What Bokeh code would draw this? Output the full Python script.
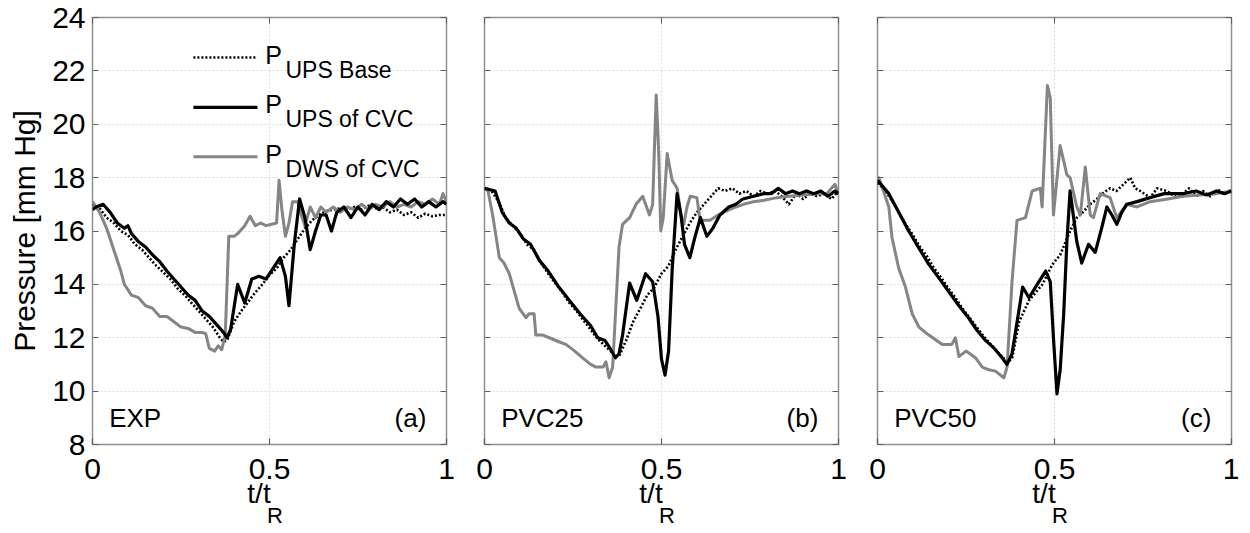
from bokeh.plotting import figure
from bokeh.layouts import row
from bokeh.models import Range1d, FixedTicker, LinearAxis, Label
from bokeh.embed import file_html
from bokeh.resources import INLINE

FONT = "Liberation Sans"

# ---------------- data ----------------
panel_names = ["EXP", "PVC25", "PVC50"]
panel_tags = ["(a)", "(b)", "(c)"]
series_names = ["UPS Base", "UPS of CVC", "DWS of CVC"]
y_ticks = [8, 10, 12, 14, 16, 18, 20, 22, 24]
x_ticks = [0, 0.5, 1]
x_tick_labels = ["0", "0.5", "1"]
x_title, x_title_sub = "t/t", "R"
y_title = "Pressure [mm Hg]"

# Panel (a) EXP
exp_base_t = [0, 0.02, 0.04, 0.06, 0.08, 0.10, 0.12, 0.14, 0.16, 0.18, 0.20, 0.22, 0.24, 0.26, 0.28,
              0.30, 0.32, 0.34, 0.36, 0.37, 0.38, 0.40, 0.42, 0.44, 0.46, 0.48, 0.50, 0.52, 0.54, 0.56,
              0.58, 0.60, 0.62, 0.64, 0.66, 0.68, 0.70, 0.72, 0.74, 0.76, 0.78, 0.80, 0.82, 0.84, 0.86,
              0.88, 0.90, 0.92, 0.94, 0.96, 0.98, 1.0]
exp_base_p = [17.0, 16.85, 16.5, 16.3, 16.0, 15.85, 15.5, 15.3, 15.0, 14.7, 14.45, 14.2, 13.85, 13.6, 13.3,
              13.0, 12.7, 12.4, 12.0, 11.85, 11.9, 12.6, 13.0, 13.35, 13.7, 14.0, 14.35, 14.6, 15.0, 15.3,
              15.7, 16.1, 16.4, 16.6, 16.75, 16.8, 16.85, 16.8, 16.9, 16.8, 16.95, 16.85, 16.9, 16.7, 16.8,
              16.6, 16.7, 16.5, 16.65, 16.55, 16.6, 16.6]
exp_ups_t = [0, 0.01, 0.03, 0.05, 0.07, 0.09, 0.10, 0.11, 0.13, 0.15, 0.17, 0.19, 0.21, 0.23, 0.25, 0.27,
             0.29, 0.31, 0.33, 0.35, 0.37, 0.38, 0.39, 0.41, 0.43, 0.45, 0.47, 0.49, 0.51, 0.53, 0.545,
             0.555, 0.57, 0.585, 0.60, 0.615, 0.63, 0.645, 0.66, 0.675, 0.69, 0.71, 0.73, 0.75, 0.77, 0.79,
             0.81, 0.83, 0.85, 0.87, 0.89, 0.91, 0.93, 0.95, 0.97, 0.99, 1.0]
exp_ups_p = [16.8, 16.9, 17.0, 16.7, 16.3, 16.1, 16.2, 15.9, 15.6, 15.4, 15.1, 14.85, 14.5, 14.2, 13.9, 13.6,
             13.4, 13.0, 12.8, 12.5, 12.2, 12.0, 12.3, 14.0, 13.3, 14.2, 14.3, 14.2, 14.6, 15.0, 14.3,
             13.2, 15.5, 17.2, 16.5, 15.3, 16.0, 16.6, 16.6, 16.0, 16.7, 16.9, 16.5, 16.9, 16.6, 17.0,
             16.8, 17.1, 16.9, 17.2, 17.0, 17.2, 16.9, 17.1, 16.9, 17.1, 17.0]
exp_dws_t = [0, 0.02, 0.04, 0.06, 0.08, 0.09, 0.11, 0.13, 0.15, 0.17, 0.19, 0.21, 0.23, 0.25, 0.27, 0.29,
             0.31, 0.32, 0.33, 0.345, 0.355, 0.365, 0.375, 0.385, 0.40, 0.41, 0.43, 0.445, 0.46, 0.475,
             0.49, 0.52, 0.527, 0.535, 0.545, 0.555, 0.565, 0.58, 0.59, 0.60, 0.615, 0.63, 0.645, 0.66,
             0.68, 0.70, 0.72, 0.74, 0.76, 0.78, 0.80, 0.82, 0.84, 0.86, 0.88, 0.90, 0.92, 0.94, 0.96,
             0.98, 0.99, 1.0]
exp_dws_p = [17.1, 16.7, 16.1, 15.3, 14.5, 14.0, 13.6, 13.5, 13.2, 13.1, 12.8, 12.8, 12.6, 12.4, 12.35, 12.2,
             12.2, 12.15, 11.6, 11.5, 11.7, 11.55, 12.1, 15.8, 15.8, 15.9, 16.2, 16.55, 16.2, 16.3,
             16.2, 16.3, 17.9, 16.8, 15.8, 16.3, 17.1, 17.1, 16.6, 16.2, 16.9, 16.5, 16.9, 16.7,
             16.9, 16.7, 16.9, 16.8, 17.0, 16.8, 17.0, 16.9, 17.1, 16.9, 17.0, 16.9, 17.1, 17.0, 17.2,
             17.0, 17.4, 17.1]

# Panel (b) PVC25
pvc25_base_t = [0, 0.02, 0.04, 0.06, 0.08, 0.10, 0.12, 0.14, 0.16, 0.18, 0.20, 0.22, 0.24, 0.26, 0.28,
                0.30, 0.32, 0.34, 0.36, 0.37, 0.38, 0.39, 0.40, 0.42, 0.44, 0.46, 0.48, 0.50, 0.52, 0.54,
                0.56, 0.58, 0.60, 0.62, 0.64, 0.66, 0.68, 0.70, 0.72, 0.74, 0.76, 0.78, 0.80, 0.82, 0.84,
                0.86, 0.88, 0.90, 0.92, 0.94, 0.96, 0.98, 1.0]
pvc25_base_p = [17.6, 17.5, 17.1, 16.5, 16.2, 15.9, 15.5, 15.3, 14.8, 14.4, 14.05, 13.7, 13.3, 13.0, 12.65,
                12.3, 11.95, 11.7, 11.45, 11.3, 11.3, 11.6, 11.9, 12.6, 13.1, 13.6, 13.9, 14.4, 14.7, 15.3,
                15.8, 16.3, 16.7, 17.0, 17.3, 17.6, 17.5, 17.6, 17.4, 17.5, 17.3, 17.5, 17.4, 17.5, 17.3,
                17.0, 17.4, 17.2, 17.4, 17.3, 17.4, 17.2, 17.5]
pvc25_ups_t = [0, 0.03, 0.05, 0.07, 0.09, 0.11, 0.13, 0.155, 0.18, 0.21, 0.24, 0.27, 0.30, 0.32, 0.34,
               0.355, 0.37, 0.38, 0.39, 0.41, 0.43, 0.455, 0.475, 0.49, 0.50, 0.51, 0.52, 0.53, 0.544,
               0.555, 0.565, 0.58, 0.595, 0.61, 0.628, 0.645, 0.665, 0.69, 0.71, 0.73, 0.76, 0.79, 0.81,
               0.83, 0.85, 0.87, 0.89, 0.91, 0.93, 0.95, 0.97, 0.99, 1.0]
pvc25_ups_p = [17.6, 17.5, 16.7, 16.3, 16.1, 15.7, 15.5, 14.9, 14.5, 13.9, 13.4, 12.9, 12.45, 12.0, 11.9,
               11.6, 11.25, 11.4, 12.1, 14.05, 13.4, 14.4, 14.1, 12.8, 11.2, 10.6, 11.5, 14.5, 17.4,
               16.6, 15.5, 15.0, 15.8, 16.5, 15.8, 16.1, 16.6, 16.9, 17.0, 17.2, 17.3, 17.4, 17.4,
               17.6, 17.4, 17.5, 17.4, 17.5, 17.4, 17.5, 17.3, 17.5, 17.4]
pvc25_dws_t = [0, 0.01, 0.023, 0.042, 0.055, 0.07, 0.085, 0.098, 0.117, 0.126, 0.14, 0.145, 0.165, 0.183,
               0.21, 0.23, 0.255, 0.277, 0.30, 0.315, 0.335, 0.343, 0.352, 0.362, 0.37, 0.38, 0.39, 0.41,
               0.428, 0.447, 0.466, 0.475, 0.485, 0.492, 0.498, 0.505, 0.516, 0.53, 0.544, 0.555, 0.563,
               0.572, 0.581, 0.60, 0.609, 0.637, 0.66, 0.684, 0.71, 0.732, 0.76, 0.79, 0.826, 0.86, 0.90,
               0.94, 0.967, 0.99, 1.0]
pvc25_dws_p = [17.6, 17.5, 16.6, 15.0, 14.8, 14.4, 13.7, 13.1, 12.75, 12.9, 12.9, 12.1, 12.1, 12.0,
               11.85, 11.75, 11.5, 11.25, 11.0, 10.9, 10.9, 11.1, 10.5, 10.9, 12.9, 15.4, 16.25, 16.5,
               17.0, 17.3, 16.6, 17.0, 21.1, 19.0, 16.0, 16.5, 18.9, 17.9, 17.6, 16.6, 16.25,
               16.9, 17.3, 17.25, 16.4, 16.4, 16.6, 16.75, 16.9, 17.0, 17.1, 17.15, 17.25, 17.3, 17.35,
               17.4, 17.4, 17.75, 17.4]

# Panel (c) PVC50
pvc50_base_t = [0, 0.02, 0.04, 0.06, 0.08, 0.10, 0.12, 0.14, 0.16, 0.18, 0.20, 0.22, 0.24, 0.26, 0.28,
                0.30, 0.32, 0.34, 0.352, 0.366, 0.38, 0.40, 0.428, 0.466, 0.494, 0.516, 0.544, 0.563,
                0.58, 0.601, 0.62, 0.64, 0.657, 0.675, 0.695, 0.714, 0.728, 0.742, 0.77, 0.79, 0.817,
                0.84, 0.864, 0.88, 0.90, 0.92, 0.94, 0.96, 0.98, 1.0]
pvc50_base_p = [17.8, 17.55, 17.15, 16.7, 16.25, 15.85, 15.4, 15.05, 14.6, 14.25, 13.85, 13.5, 13.1, 12.75,
                12.4, 12.05, 11.75, 11.45, 11.3, 11.1, 11.2, 12.6, 13.4, 14.0, 14.75, 15.1, 16.0, 16.5,
                16.7, 17.0, 17.2, 17.45, 17.6, 17.5, 17.75, 18.0, 17.6, 17.5, 17.25, 17.6, 17.5,
                17.3, 17.4, 17.6, 17.3, 17.5, 17.3, 17.55, 17.4, 17.55]
pvc50_ups_t = [0, 0.032, 0.06, 0.088, 0.115, 0.145, 0.17, 0.20, 0.23, 0.257, 0.28, 0.305, 0.33, 0.352,
               0.366, 0.38, 0.41, 0.428, 0.456, 0.475, 0.488, 0.497, 0.507, 0.516, 0.526, 0.535, 0.544,
               0.563, 0.577, 0.596, 0.615, 0.633, 0.648, 0.662, 0.676, 0.69, 0.704, 0.733, 0.77, 0.81,
               0.864, 0.90, 0.93, 0.958, 0.98, 1.0]
pvc50_ups_p = [17.9, 17.4, 16.7, 16.0, 15.4, 14.75, 14.3, 13.75, 13.2, 12.75, 12.3, 11.9, 11.6, 11.25,
               11.0, 11.4, 13.9, 13.5, 14.1, 14.5, 14.1, 12.0, 9.9, 10.8, 12.9, 15.6, 17.5,
               15.6, 14.8, 15.5, 15.2, 16.1, 16.9, 16.6, 16.25, 16.7, 17.0, 17.1, 17.25, 17.4,
               17.4, 17.5, 17.35, 17.5, 17.4, 17.5]
pvc50_dws_t = [0, 0.004, 0.032, 0.041, 0.06, 0.079, 0.098, 0.117, 0.145, 0.183, 0.21, 0.22, 0.23, 0.25,
               0.277, 0.296, 0.315, 0.333, 0.357, 0.366, 0.38, 0.394, 0.418, 0.437, 0.46, 0.465, 0.48,
               0.488, 0.497, 0.516, 0.535, 0.544, 0.563, 0.573, 0.587, 0.601, 0.61, 0.629, 0.657, 0.676,
               0.704, 0.733, 0.77, 0.82, 0.864, 0.91, 0.958, 1.0]
pvc50_dws_p = [18.0, 18.0, 16.9, 15.75, 14.6, 13.9, 12.9, 12.4, 12.1, 11.75, 11.75, 12.0, 11.3, 11.5,
               11.25, 10.9, 10.8, 10.75, 10.5, 10.9, 14.1, 16.4, 16.5, 17.5, 17.6, 16.9, 21.45,
               21.0, 16.6, 19.2, 18.1, 18.0, 16.9, 16.6, 18.4, 16.6, 16.5, 17.4, 17.25, 16.5,
               17.0, 16.9, 17.1, 17.2, 17.3, 17.35, 17.4, 17.5]

panel_data = [
    (exp_base_t, exp_base_p, exp_ups_t, exp_ups_p, exp_dws_t, exp_dws_p),
    (pvc25_base_t, pvc25_base_p, pvc25_ups_t, pvc25_ups_p, pvc25_dws_t, pvc25_dws_p),
    (pvc50_base_t, pvc50_base_p, pvc50_ups_t, pvc50_ups_p, pvc50_dws_t, pvc50_dws_p),
]

# ---------------- styles / layout ----------------
GRAY = "#858585"
BOX = "#8f8f8f"
GRID = "#dcdcdc"
TICK = "#606060"
FRAME_W, FRAME_H = 354, 427
BORDERS = [(92, 19), (19, 20), (19, 8)]
BORDER_TOP, BORDER_BOTTOM = 17, 88
styles = [
    dict(line_color="black", line_width=2.6, line_dash="2 2"),
    dict(line_color="black", line_width=3.2),
    dict(line_color=GRAY, line_width=3.0),
]
LEG_X = (0.285, 0.466)
LEG_Y = [22.5, 20.63, 18.78]
LEG_P_X = 0.488
LEG_SUB_X = 0.545
NAME_X, TAG_X, NAME_Y = 0.047, 0.943, 9.0


def blank_axis(ticks):
    return LinearAxis(ticker=FixedTicker(ticks=ticks), axis_line_color=None,
                      major_tick_in=6, major_tick_out=0, major_tick_line_color=TICK,
                      minor_tick_line_color=None, major_label_text_font_size="1px",
                      major_label_overrides={t: "" for t in ticks},
                      major_label_standoff=0)


def make_panel(i):
    bl, br = BORDERS[i]
    p = figure(frame_width=FRAME_W, frame_height=FRAME_H,
               x_range=Range1d(0, 1), y_range=Range1d(8, 24),
               output_backend="svg", toolbar_location=None,
               min_border_left=bl, min_border_right=br,
               min_border_top=BORDER_TOP, min_border_bottom=BORDER_BOTTOM)
    p.background_fill_color = "white"
    p.border_fill_color = "white"
    p.outline_line_color = BOX
    p.outline_line_width = 1.5

    for ax in (p.xaxis[0], p.yaxis[0]):
        ax.axis_line_color = None
        ax.major_tick_in = 6
        ax.major_tick_out = 0
        ax.major_tick_line_color = TICK
        ax.major_tick_line_width = 1.2
        ax.minor_tick_line_color = None
        ax.major_label_text_font = FONT
        ax.major_label_text_font_size = "30px"
        ax.major_label_text_color = "black"
        ax.axis_label_text_font = FONT
        ax.axis_label_text_font_style = "normal"
        ax.axis_label_text_color = "black"
    p.xaxis.ticker = FixedTicker(ticks=x_ticks)
    p.xaxis.major_label_overrides = {t: s for t, s in zip(x_ticks, x_tick_labels)}
    p.xaxis.major_label_standoff = 14
    # trailing spaces shift the centred "t/t" left so that the subscript follows it
    p.xaxis.axis_label = x_title + "\u2002\u2005"
    p.xaxis.axis_label_text_font_size = "28px"
    p.xaxis.axis_label_standoff = -4
    p.yaxis.ticker = FixedTicker(ticks=y_ticks)
    if i == 0:
        p.yaxis.major_label_standoff = 7
        p.yaxis.axis_label = y_title
        p.yaxis.axis_label_text_font_size = "30px"
        p.yaxis.axis_label_standoff = 8
    else:
        p.yaxis.major_label_text_font_size = "1px"
        p.yaxis.major_label_overrides = {t: "" for t in y_ticks}
        p.yaxis.major_label_standoff = 0

    # subscript "R" of the x title, on an extra label-only axis below
    sub = LinearAxis(ticker=FixedTicker(ticks=[]), axis_line_color=None,
                     major_tick_in=0, major_tick_out=0, minor_tick_line_color=None,
                     major_label_standoff=0, major_label_text_font_size="1px",
                     axis_label="\u2002" + x_title_sub, axis_label_text_font=FONT,
                     axis_label_text_font_size="22px", axis_label_text_font_style="normal",
                     axis_label_text_color="black", axis_label_standoff=-9)
    p.add_layout(sub, "below")

    p.add_layout(blank_axis(y_ticks), "right")
    p.add_layout(blank_axis(x_ticks), "above")

    p.ygrid.ticker = FixedTicker(ticks=y_ticks[1:-1])
    p.xgrid.ticker = FixedTicker(ticks=[0.5])
    for g in (p.xgrid[0], p.ygrid[0]):
        g.grid_line_color = GRID
        g.grid_line_dash = "2 2"
        g.grid_line_width = 1.2

    bt, bp, ut, up, dt, dp = panel_data[i]
    p.line(bt, bp, line_join="round", **styles[0])
    p.line(dt, dp, line_join="round", **styles[2])
    p.line(ut, up, line_join="round", **styles[1])

    p.add_layout(Label(x=NAME_X, y=NAME_Y, text=panel_names[i], text_font=FONT,
                       text_font_size="26px", text_color="black", text_baseline="middle"))
    p.add_layout(Label(x=TAG_X, y=NAME_Y, text=panel_tags[i], text_font=FONT,
                       text_font_size="26px", text_color="black", text_align="right",
                       text_baseline="middle"))

    if i == 0:
        for k in range(3):
            p.line([LEG_X[0], LEG_X[1]], [LEG_Y[k], LEG_Y[k]], **styles[k])
            p.add_layout(Label(x=LEG_P_X, y=LEG_Y[k], y_offset=3, text="P", text_font=FONT,
                               text_font_size="25px", text_color="black",
                               text_baseline="middle"))
            p.add_layout(Label(x=LEG_SUB_X, y=LEG_Y[k], y_offset=-12, text=series_names[k],
                               text_font=FONT, text_font_size="23px", text_color="black",
                               text_baseline="middle"))
    return p


panels = [make_panel(i) for i in range(3)]
layout = row(*panels, spacing=0)
open("out.html", "w").write(file_html(layout, INLINE))
